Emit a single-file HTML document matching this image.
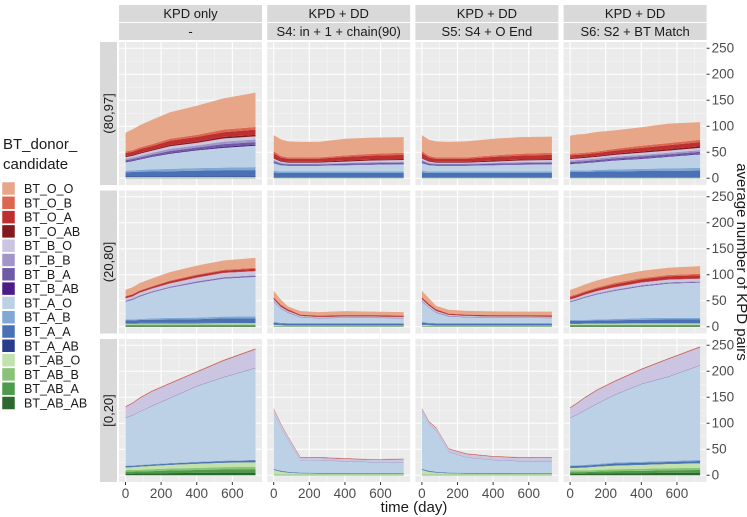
<!DOCTYPE html>
<html><head><meta charset="utf-8">
<style>
html,body{margin:0;padding:0;background:#fff;}
svg{display:block;font-family:"Liberation Sans",Arial,sans-serif;}
</style></head>
<body>
<svg id="chart" width="747" height="517" viewBox="0 0 747 517" xmlns="http://www.w3.org/2000/svg">
  <g id="panels"></g>
  <g id="legend">
    <text x="3" y="149" font-size="15" fill="#1a1a1a">BT_donor_</text>
    <text x="3" y="169" font-size="15" fill="#1a1a1a">candidate</text>
  </g>
  <text x="414" y="512" font-size="15" fill="#1a1a1a" text-anchor="middle">time (day)</text>
  <text transform="translate(737,262) rotate(90)" font-size="15" fill="#1a1a1a" text-anchor="middle">average number of KPD pairs</text>
</svg>
<script>
const days = [0, 40, 80, 150, 250, 400, 550, 730];
const seriesNames = ["BT_O_O","BT_O_B","BT_O_A","BT_O_AB","BT_B_O","BT_B_B","BT_B_A","BT_B_AB","BT_A_O","BT_A_B","BT_A_A","BT_A_AB","BT_AB_O","BT_AB_B","BT_AB_A","BT_AB_AB"];
const seriesColors = ["#e8a688","#dc6650","#be2f2f","#82191c","#cbc5e1","#a096c8","#6f5aa8","#4b1b88","#bcd1e5","#80a8d4","#4a71b6","#2a3c8c","#c2e2ad","#88c377","#4d9a4b","#2d682e"];
const colTop = ["KPD only","KPD + DD","KPD + DD","KPD + DD"];
const colSub = ["-","S4: in + 1 + chain(90)","S5: S4 + O End","S6: S2 + BT Match"];
const rowLabels = ["(80,97]","(20,80]","[0,20]"];
const yTicks = [0,50,100,150,200,250];
const xTicks = [0,200,400,600];

// row 1 (80,97]
const p_r1c1 = {
 BT_O_O:[36,40,43,47,51,56,60,66], BT_O_B:[3,3,3,3.5,4,4,5,5], BT_O_A:[6,6,7,7,8,9,9,10], BT_O_AB:[2,2,2,2,2.5,2.5,3,3],
 BT_B_O:[3,3,4,4,5,5,6,6], BT_B_B:[3,3,3,3.5,4,4,5,5], BT_B_A:[3,3,3,3.5,4,4,5,5], BT_B_AB:[1,1,1,1,1.5,1.5,2,2],
 BT_A_O:[16,18,20,24,29,34,38,41], BT_A_B:[3,3,3.5,4,4.5,5,5,6], BT_A_A:[8,8.5,9,9.5,10,11,12,12], BT_A_AB:[1,1,1,1,1,1,1,1],
 BT_AB_O:[1,1,1,1,1,1,1,1], BT_AB_B:[0.5,0.5,0.5,0.5,0.5,0.5,0.5,0.5], BT_AB_A:[0.5,0.5,0.5,0.5,0.5,0.5,0.5,0.5], BT_AB_AB:[0.5,0.5,0.5,0.5,0.5,0.5,0.5,0.5]};
const p_r1c2 = {
 BT_O_O:[31,32,31,30,30,32,31,30], BT_O_B:[4,3,2.5,2.5,2.5,3,3.5,4], BT_O_A:[8,6.5,6,6,6,7,7.5,8], BT_O_AB:[2,1.5,1.5,1.5,1.5,2,2,2],
 BT_B_O:[3,2.5,2,2,2,2.5,3,3], BT_B_B:[2,1.5,1.5,1.5,1.5,1.5,2,2], BT_B_A:[3,2.5,2,2,2,2.5,2.5,2.5], BT_B_AB:[1,0.5,0.5,0.5,0.5,0.5,0.5,0.5],
 BT_A_O:[14,12,11,11,11,12,13,14], BT_A_B:[4,3,3,3,3,3,3,3], BT_A_A:[9,8,8,8,8,8,8,8], BT_A_AB:[1,1,1,1,1,1,1,1],
 BT_AB_O:[0.4,0.4,0.4,0.4,0.4,0.4,0.4,0.4], BT_AB_B:[0.2,0.2,0.2,0.2,0.2,0.2,0.2,0.2], BT_AB_A:[0.2,0.2,0.2,0.2,0.2,0.2,0.2,0.2], BT_AB_AB:[0.2,0.2,0.2,0.2,0.2,0.2,0.2,0.2]};
const p_r1c3 = {
 BT_O_O:[31,31,31,30,31,32,32,31], BT_O_B:[4,3,2.5,2.5,2.5,3,3.5,4], BT_O_A:[8,6.5,6,6,6,7,7.5,8], BT_O_AB:[2,1.5,1.5,1.5,1.5,2,2,2],
 BT_B_O:[3,2.5,2,2,2,2.5,3,3], BT_B_B:[2,1.5,1.5,1.5,1.5,1.5,2,2], BT_B_A:[3,2.5,2,2,2,2.5,2.5,2.5], BT_B_AB:[1,0.5,0.5,0.5,0.5,0.5,0.5,0.5],
 BT_A_O:[14,12,11,11,11,12,13,14], BT_A_B:[4,3,3,3,3,3,3,3], BT_A_A:[9,8,8,8,8,8,8,8], BT_A_AB:[1,1,1,1,1,1,1,1],
 BT_AB_O:[0.4,0.4,0.4,0.4,0.4,0.4,0.4,0.4], BT_AB_B:[0.2,0.2,0.2,0.2,0.2,0.2,0.2,0.2], BT_AB_A:[0.2,0.2,0.2,0.2,0.2,0.2,0.2,0.2], BT_AB_AB:[0.2,0.2,0.2,0.2,0.2,0.2,0.2,0.2]};
const p_r1c4 = {
 BT_O_O:[35,36,36,37.5,35.5,35.5,37.5,34], BT_O_B:[3,3,3,3,3.5,4,4,4.5], BT_O_A:[5,5,5,5.5,6,7,7.5,8], BT_O_AB:[2,2,2,2,2,2.5,3,3],
 BT_B_O:[3,3,3,3,3.5,4,4,4.5], BT_B_B:[3,3,3,3,3,3,3,3], BT_B_A:[3,3,3,3,3.5,4,4,4], BT_B_AB:[1,1,1,1,1,1,1,1],
 BT_A_O:[12,13,14,15,17,19,22,26], BT_A_B:[3,3,3,3,4,4,5,5], BT_A_A:[10,10,10,11,11,12,12,13], BT_A_AB:[1,1,1,1,1,1,1,1],
 BT_AB_O:[0.4,0.4,0.4,0.4,0.4,0.4,0.4,0.4], BT_AB_B:[0.2,0.2,0.2,0.2,0.2,0.2,0.2,0.2], BT_AB_A:[0.2,0.2,0.2,0.2,0.2,0.2,0.2,0.2], BT_AB_AB:[0.2,0.2,0.2,0.2,0.2,0.2,0.2,0.2]};
// row 2 (20,80]
const p_r2c1 = {
 BT_O_O:[12,13,14,15,16,17,18,19], BT_O_B:[1,1,1,1,1.5,1.5,1.5,2], BT_O_A:[3,3,3,3,3.5,4,4,4], BT_O_AB:[0.5,0.5,0.5,0.5,0.5,0.5,0.5,0.5],
 BT_B_O:[4,4,5,5,6,7,8,8], BT_B_B:[1,1,1,1,1,1,1,1], BT_B_A:[1,1,1,1,1,1.5,1.5,1.5], BT_B_AB:[0.5,0.5,0.5,0.5,0.5,0.5,0.5,0.5],
 BT_A_O:[34,38,43,50,58,67,73,76], BT_A_B:[2,2,2,2.5,3,3,3.5,4], BT_A_A:[5,5,5.5,6,6.5,7,8,8], BT_A_AB:[1,1,1,1,1,1,1,1],
 BT_AB_O:[1.5,1.5,2,2,2,2,2.5,2.5], BT_AB_B:[1.5,1.5,1.5,1.5,1.5,1.5,1.5,1.5], BT_AB_A:[1.5,1.5,1.5,1.5,1.5,1.5,1.5,1.5], BT_AB_AB:[1.5,1.5,1.5,1.5,1.5,1.5,1.5,1.5]};
const p_r2c2 = {
 BT_O_O:[12,9.5,5,6.5,6.5,7.5,6.5,6.5], BT_O_B:[1,1,1,0.5,0.5,0.5,0.5,0.5], BT_O_A:[3,3,2.5,2,2,2,2,2], BT_O_AB:[0.3,0.3,0.3,0.3,0.3,0.3,0.3,0.3],
 BT_B_O:[3,2.5,2,1.5,1.5,1.5,1.5,1.5], BT_B_B:[0.5,0.5,0.5,0.5,0.5,0.5,0.5,0.5], BT_B_A:[1,0.5,0.5,0.5,0.5,0.5,0.5,0.5], BT_B_AB:[0.3,0.3,0.3,0.3,0.3,0.3,0.3,0.3],
 BT_A_O:[38,27,20,11,9,10,10,9], BT_A_B:[2,1,1,1,1,1,1,1], BT_A_A:[4,3,3,3,3,3,3,3], BT_A_AB:[0.5,0.5,0.5,0.5,0.5,0.5,0.5,0.5],
 BT_AB_O:[2,1.5,1,1,1,1,1,1], BT_AB_B:[0.5,0.5,0.5,0.5,0.5,0.5,0.5,0.5], BT_AB_A:[0.5,0.5,0.5,0.5,0.5,0.5,0.5,0.5], BT_AB_AB:[0.5,0.5,0.5,0.5,0.5,0.5,0.5,0.5]};
const p_r2c3 = {
 BT_O_O:[12,10,6,7,7,7,6.5,7], BT_O_B:[1,1,1,0.5,0.5,0.5,0.5,0.5], BT_O_A:[3,3,2.5,2,2,2,2,2], BT_O_AB:[0.3,0.3,0.3,0.3,0.3,0.3,0.3,0.3],
 BT_B_O:[3,2.5,2,1.5,1.5,1.5,1.5,1.5], BT_B_B:[0.5,0.5,0.5,0.5,0.5,0.5,0.5,0.5], BT_B_A:[1,0.5,0.5,0.5,0.5,0.5,0.5,0.5], BT_B_AB:[0.3,0.3,0.3,0.3,0.3,0.3,0.3,0.3],
 BT_A_O:[38,29,20,13,11,10,10,9.5], BT_A_B:[2,1,1,1,1,1,1,1], BT_A_A:[4,3,3,3,3,3,3,3], BT_A_AB:[0.5,0.5,0.5,0.5,0.5,0.5,0.5,0.5],
 BT_AB_O:[2,1.5,1,1,1,1,1,1], BT_AB_B:[0.5,0.5,0.5,0.5,0.5,0.5,0.5,0.5], BT_AB_A:[0.5,0.5,0.5,0.5,0.5,0.5,0.5,0.5], BT_AB_AB:[0.5,0.5,0.5,0.5,0.5,0.5,0.5,0.5]};
const p_r2c4 = {
 BT_O_O:[12,12.5,13,13.5,13.5,14,14,14.5], BT_O_B:[2,2,2,2,2.5,2.5,2.5,3], BT_O_A:[4,4,4,4.5,5,5.5,6,6], BT_O_AB:[0.5,0.5,0.5,0.5,0.5,0.5,0.5,0.5],
 BT_B_O:[3,3,3.5,4,4.5,5,5,5], BT_B_B:[1,1,1,1,1,1,1,1], BT_B_A:[1,1,1,1,1,1,1,1], BT_B_AB:[0.5,0.5,0.5,0.5,0.5,0.5,0.5,0.5],
 BT_A_O:[34,38,42,48,54,61,66,68], BT_A_B:[2,2,2,2,2.5,3,3,3], BT_A_A:[5,5,5,5.5,6,6.5,7,7], BT_A_AB:[0.5,0.5,0.5,0.5,0.5,0.5,0.5,0.5],
 BT_AB_O:[1.5,1.5,2,2,2,2.5,2.5,2.5], BT_AB_B:[1,1,1,1,1,1,1,1], BT_AB_A:[1.5,1.5,1.5,1.5,1.5,1.5,1.5,1.5], BT_AB_AB:[1.5,1.5,1.5,1.5,1.5,1.5,1.5,1.5]};
// row 3 [0,20]
const p_r3c1 = {
 BT_O_O:[0.5,0.5,0.5,0.5,0.5,0.5,0.5,0.5], BT_O_B:[0.3,0.3,0.3,0.3,0.3,0.3,0.3,0.3], BT_O_A:[1,1,1,1,1,1,1,1], BT_O_AB:[0.2,0.2,0.2,0.2,0.2,0.2,0.2,0.2],
 BT_B_O:[19.8,21.8,24.8,26.8,26.8,25.8,30.8,34.8], BT_B_B:[0.5,0.5,0.5,0.5,0.5,0.5,0.5,0.5], BT_B_A:[0.5,0.5,0.5,0.5,0.5,0.5,0.5,0.5], BT_B_AB:[0.2,0.2,0.2,0.2,0.2,0.2,0.2,0.2],
 BT_A_O:[91.5,96,102,111.5,124.5,145,160,176.5], BT_A_B:[1,1,1,1,1,1,1,1], BT_A_A:[2,2,2,2,2,2.5,2.5,3], BT_A_AB:[0.5,0.5,0.5,0.5,0.5,0.5,0.5,0.5],
 BT_AB_O:[5,5.5,6,6.5,7,8,8.5,9], BT_AB_B:[3,3,3,3.5,4,4,4.5,5], BT_AB_A:[4,4,4,4.5,5,5.5,6,6], BT_AB_AB:[3,3,3.5,3.5,4,4.5,5,5]};
const p_r3c2 = {
 BT_O_O:[0.3,0.3,0.3,0.3,0.3,0.3,0.3,0.3], BT_O_B:[0.2,0.2,0.2,0.2,0.2,0.2,0.2,0.2], BT_O_A:[0.8,0.8,0.8,0.8,0.8,0.8,0.8,0.8], BT_O_AB:[0.2,0.2,0.2,0.2,0.2,0.2,0.2,0.2],
 BT_B_O:[7.7,5.7,4.7,4.7,4.7,3.7,3.7,4.7], BT_B_B:[0.3,0.3,0.3,0.3,0.3,0.3,0.3,0.3], BT_B_A:[0.3,0.3,0.3,0.3,0.3,0.3,0.3,0.3], BT_B_AB:[0.2,0.2,0.2,0.2,0.2,0.2,0.2,0.2],
 BT_A_O:[106.7,83,61,22.7,23.2,22.2,20.7,20.7], BT_A_B:[0.5,0.5,0.5,0.5,0.5,0.5,0.5,0.5], BT_A_A:[1.5,1.5,1.2,1,1,1,1,1], BT_A_AB:[0.3,0.3,0.3,0.3,0.3,0.3,0.3,0.3],
 BT_AB_O:[8,5,3.5,2,1.5,1.5,1,1], BT_AB_B:[1,0.7,0.5,0.5,0.5,0.5,0.5,0.5], BT_AB_A:[0.5,0.5,0.5,0.5,0.5,0.5,0.5,0.5], BT_AB_AB:[0.5,0.5,0.5,0.5,0.5,0.5,0.5,0.5]};
const p_r3c3 = {
 BT_O_O:[0.3,0.3,0.3,0.3,0.3,0.3,0.3,0.3], BT_O_B:[0.2,0.2,0.2,0.2,0.2,0.2,0.2,0.2], BT_O_A:[0.8,0.8,0.8,0.8,0.8,0.8,0.8,0.8], BT_O_AB:[0.2,0.2,0.2,0.2,0.2,0.2,0.2,0.2],
 BT_B_O:[4.7,4.7,4.7,4.7,5.7,5.7,5.7,5.7], BT_B_B:[0.3,0.3,0.3,0.3,0.3,0.3,0.3,0.3], BT_B_A:[0.3,0.3,0.3,0.3,0.3,0.3,0.3,0.3], BT_B_AB:[0.2,0.2,0.2,0.2,0.2,0.2,0.2,0.2],
 BT_A_O:[109.7,88.2,78,39.7,29.2,24.2,22.7,22.7], BT_A_B:[0.5,0.5,0.5,0.5,0.5,0.5,0.5,0.5], BT_A_A:[1.5,1.5,1.2,1,1,1,1,1], BT_A_AB:[0.3,0.3,0.3,0.3,0.3,0.3,0.3,0.3],
 BT_AB_O:[8,4.8,3.5,2,1.5,1.5,1,1], BT_AB_B:[1,0.7,0.5,0.5,0.5,0.5,0.5,0.5], BT_AB_A:[0.5,0.5,0.5,0.5,0.5,0.5,0.5,0.5], BT_AB_AB:[0.5,0.5,0.5,0.5,0.5,0.5,0.5,0.5]};
const p_r3c4 = {
 BT_O_O:[0.5,0.5,0.5,0.5,0.5,0.5,0.5,0.5], BT_O_B:[0.3,0.3,0.3,0.3,0.3,0.3,0.3,0.3], BT_O_A:[1,1,1,1,1,1,1,1], BT_O_AB:[0.2,0.2,0.2,0.2,0.2,0.2,0.2,0.2],
 BT_B_O:[17.8,20.8,22.8,24.8,24.8,26.8,32.8,33.8], BT_B_B:[0.5,0.5,0.5,0.5,0.5,0.5,0.5,0.5], BT_B_A:[0.5,0.5,0.5,0.5,0.5,0.5,0.5,0.5], BT_B_AB:[0.2,0.2,0.2,0.2,0.2,0.2,0.2,0.2],
 BT_A_O:[91,96.5,104,115.5,129.5,149,161.5,181.5], BT_A_B:[1.5,1.5,1.5,1.5,2,2,2,2], BT_A_A:[3,3,3,3,3.5,3.5,3.5,4], BT_A_AB:[0.5,0.5,0.5,0.5,0.5,0.5,0.5,0.5],
 BT_AB_O:[5,5.5,6,6.5,7,7.5,8,8.5], BT_AB_B:[3,3,3,3,3.5,4,4,4.5], BT_AB_A:[3,3,3,3.5,4,4.5,5,5], BT_AB_AB:[3,3,3,3.5,4,4,4.5,5]};

const panelData = [[p_r1c1,p_r1c2,p_r1c3,p_r1c4],[p_r2c1,p_r2c2,p_r2c3,p_r2c4],[p_r3c1,p_r3c2,p_r3c3,p_r3c4]];

const NS = "http://www.w3.org/2000/svg";
const PW = 143, PH = 143;
const X0 = 119, XSTEP = 148.2, Y0 = 42, YSTEP = 148.5;
const XMIN = -36.5, XMAX = 766.5, YMIN = -13, YMAX = 262;
function mk(tag, attrs, parent){ const e=document.createElementNS(NS,tag); for(const k in attrs) e.setAttribute(k,attrs[k]); parent.appendChild(e); return e; }
function xs(c){ const l=X0+c*XSTEP; return d=> l+(d-XMIN)/(XMAX-XMIN)*PW; }
function ys(r){ const t=Y0+r*YSTEP; return v=> t+(YMAX-v)/(YMAX-YMIN)*PH; }

const root = document.getElementById("panels");
for(let r=0;r<3;r++){
  for(let c=0;c<4;c++){
    const left=X0+c*XSTEP, top=Y0+r*YSTEP, X=xs(c), Y=ys(r);
    const g=mk("g",{},root);
    
    
    const bg=mk("rect",{x:left,y:top,width:PW,height:PH,fill:"#ebebeb"},g);
    
    
    for(let v=25; v<262; v+=50){ const gl=mk("line",{x1:left,x2:left+PW,y1:Y(v),y2:Y(v),stroke:"#f7f7f7","stroke-width":0.6},g);   }
    for(let d=100; d<=700; d+=200){ const gl=mk("line",{x1:X(d),x2:X(d),y1:top,y2:top+PH,stroke:"#f7f7f7","stroke-width":0.6},g);   }
    yTicks.forEach(v=>{ const gl=mk("line",{x1:left,x2:left+PW,y1:Y(v),y2:Y(v),stroke:"#fff","stroke-width":1.1},g);   });
    xTicks.forEach(d=>{ const gl=mk("line",{x1:X(d),x2:X(d),y1:top,y2:top+PH,stroke:"#fff","stroke-width":1.1},g);   });
    const data=panelData[r][c];
    let base=days.map(()=>0);
    for(let s=seriesNames.length-1;s>=0;s--){
      const vals=data[seriesNames[s]];
      const topv=base.map((b,i)=>b+vals[i]);
      let pts=days.map((d,i)=>X(d).toFixed(2)+","+Y(topv[i]).toFixed(2));
      for(let i=days.length-1;i>=0;i--) pts.push(X(days[i]).toFixed(2)+","+Y(base[i]).toFixed(2));
      const p=mk("polygon",{points:pts.join(" "),fill:seriesColors[s]},g);
      
      
      base=topv;
    }
    if(r===0){
      const s1=mk("rect",{x:left,y:5,width:PW,height:17,fill:"#d9d9d9"},root);
       
      const t1=mk("text",{x:left+PW/2,y:18,"font-size":13,fill:"#1a1a1a","text-anchor":"middle"},root); t1.textContent=colTop[c];
       
      const s2=mk("rect",{x:left,y:23,width:PW,height:17,fill:"#d9d9d9"},root);
       
      const t2=mk("text",{x:left+PW/2,y:36,"font-size":13,fill:"#1a1a1a","text-anchor":"middle"},root); t2.textContent=colSub[c];
       
    }
    if(c===0){
      const rs=mk("rect",{x:100,y:top,width:17,height:PH,fill:"#d9d9d9"},root);
       
      const rt=mk("text",{transform:"translate(113,"+(top+PH/2)+") rotate(-90)","font-size":13,fill:"#1a1a1a","text-anchor":"middle"},root); rt.textContent=rowLabels[r];
       
    }
    if(c===3){
      yTicks.forEach(v=>{
        const tk=mk("line",{x1:left+PW,x2:left+PW+3,y1:Y(v),y2:Y(v),stroke:"#333","stroke-width":1},root);
         
        const tl=mk("text",{x:left+PW+5,y:Y(v)+4.5,"font-size":13.5,fill:"#4d4d4d"},root); tl.textContent=v;
         
      });
    }
    if(r===2){
      xTicks.forEach(d=>{
        const tk=mk("line",{x1:X(d),x2:X(d),y1:top+PH,y2:top+PH+3,stroke:"#333","stroke-width":1},root);
         
        const tl=mk("text",{x:X(d),y:top+PH+16,"font-size":13.5,fill:"#4d4d4d","text-anchor":"middle"},root); tl.textContent=d;
         
      });
    }
  }
}
const lg=document.getElementById("legend");
seriesNames.forEach((n,i)=>{
  const y=182+i*14.3;
  const k=mk("rect",{x:2,y:y,width:13,height:13,fill:seriesColors[i],stroke:"#fff","stroke-width":0.5},lg);
  
  
  const t=mk("text",{x:24,y:y+11,"font-size":12.5,fill:"#1a1a1a"},lg); t.textContent=n;
  
  
});
</script>
</body></html>
